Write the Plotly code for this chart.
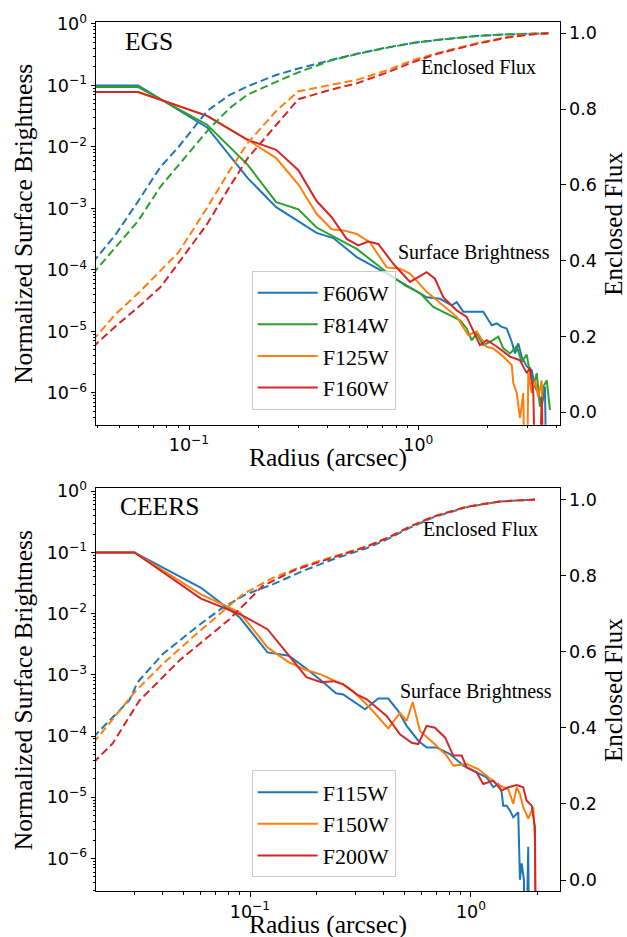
import plotly.graph_objects as go

# ---------------- EGS : surface brightness (solid) ----------------
egs_f606w_r = [0.03, 0.06, 0.12, 0.18, 0.24, 0.30, 0.36, 0.426, 0.539, 0.728, 0.92, 1.088, 1.243, 1.398, 1.471, 1.571, 1.92, 2.09, 2.2, 2.3, 2.43, 2.555, 2.641, 2.73, 2.824, 2.97, 3.123, 3.228, 3.337, 3.453, 3.569, 3.667]
egs_f606w_sb = [0.1, 0.1, 0.0208, 0.00314, 0.00105, 6.25e-4, 4.0e-4, 3.3e-4, 1.62e-4, 8.7e-5, 5.3e-5, 3.6e-5, 3.4e-5, 2.67e-5, 3.0e-5, 2.1e-5, 2.1e-5, 1.26e-5, 1.35e-5, 1.2e-5, 1.12e-5, 6.8e-6, 4.4e-6, 6.4e-6, 3.9e-6, 2.7e-6, 2.35e-6, 1.26e-6, 1.0e-6, 6.0e-7, 1.26e-6, 1e-9]

egs_f814w_r = [0.03, 0.06, 0.12, 0.18, 0.24, 0.30, 0.36, 0.539, 0.728, 0.875, 1.017, 1.163, 1.33, 1.52, 1.626, 1.71, 1.798, 1.92, 2.054, 2.233, 2.348, 2.512, 2.686, 2.824, 2.97, 3.07, 3.174, 3.284, 3.394, 3.509, 3.631, 3.752]
egs_f814w_sb = [0.094, 0.094, 0.023, 0.00517, 0.00127, 9.7e-4, 4.9e-4, 2.2e-4, 9.2e-5, 5.6e-5, 4.2e-5, 2.5e-5, 1.95e-5, 1.52e-5, 1.12e-5, 7.2e-6, 9.3e-6, 6.0e-6, 6.8e-6, 8.2e-6, 5.3e-6, 4.4e-6, 5.7e-6, 3.2e-6, 4.2e-6, 2.1e-6, 1.26e-6, 2.1e-6, 6.0e-7, 1.26e-6, 1.6e-6, 5.3e-7]

egs_f125w_r = [0.03, 0.06, 0.12, 0.18, 0.24, 0.30, 0.36, 0.419, 0.471, 0.539, 0.616, 0.728, 0.832, 0.92, 1.088, 1.285, 1.471, 1.652, 1.798, 1.988, 2.124, 2.348, 2.555, 2.597, 2.686, 2.777, 2.87, 2.95, 3.018, 3.123, 3.228, 3.337, 3.453, 3.55]
egs_f125w_sb = [0.078, 0.078, 0.032, 0.0131, 0.0066, 0.00245, 8.2e-4, 4.6e-4, 4.4e-4, 3.85e-4, 2.8e-4, 1.1e-4, 1.05e-4, 8.7e-5, 4.4e-5, 2.67e-5, 1.73e-5, 8.7e-6, 1.0e-5, 5.6e-6, 5.3e-6, 3.9e-6, 2.85e-6, 1.44e-6, 1.0e-6, 3.9e-7, 1.0e-6, 1e-9, 2.1e-6, 1.0e-6, 1.6e-6, 8.6e-7, 1.6e-6, 1e-9]

egs_f160w_r = [0.03, 0.06, 0.12, 0.18, 0.24, 0.30, 0.36, 0.419, 0.487, 0.547, 0.605, 0.669, 0.778, 0.92, 1.088, 1.182, 1.285, 1.471, 1.626, 1.798, 1.858, 1.988, 2.197, 2.512, 2.777, 2.97, 3.07, 3.174, 3.3, 3.453, 3.55]
egs_f160w_sb = [0.078, 0.078, 0.032, 0.0131, 0.0090, 0.0042, 0.00132, 7.2e-4, 3.2e-4, 2.5e-4, 2.9e-4, 2.65e-4, 1.26e-4, 6.4e-5, 9.2e-5, 7.2e-5, 3.6e-5, 2.2e-5, 1.73e-5, 7.7e-6, 6.0e-6, 7.2e-6, 5.7e-6, 3.9e-6, 3.4e-6, 2.1e-6, 2.6e-6, 1.0e-6, 1e-9, 8.6e-7, 1e-9]

# ---------------- EGS : enclosed flux (dashed) ----------------
egs_ef_r = [0.038, 0.048, 0.06, 0.075, 0.09, 0.12, 0.15, 0.18, 0.24, 0.3, 0.42, 0.54, 0.72, 0.96, 1.2, 1.5, 1.8, 2.4, 3.0, 3.69]
egs_f606w_ef = [0.395, 0.47, 0.557, 0.647, 0.70, 0.795, 0.837, 0.86, 0.89, 0.907, 0.93, 0.946, 0.962, 0.975, 0.982, 0.989, 0.993, 0.997, 0.999, 1.0]
egs_f814w_ef = [0.365, 0.437, 0.505, 0.595, 0.652, 0.742, 0.802, 0.838, 0.872, 0.897, 0.929, 0.945, 0.961, 0.975, 0.982, 0.989, 0.993, 0.997, 0.999, 1.0]
egs_f125w_ef = [0.19, 0.26, 0.314, 0.372, 0.422, 0.54, 0.637, 0.71, 0.795, 0.847, 0.865, 0.877, 0.901, 0.93, 0.947, 0.962, 0.974, 0.989, 0.997, 1.0]
egs_f160w_ef = [0.172, 0.228, 0.277, 0.33, 0.394, 0.497, 0.594, 0.67, 0.758, 0.826, 0.852, 0.868, 0.895, 0.925, 0.945, 0.96, 0.972, 0.988, 0.996, 1.0]

# ---------------- CEERS : surface brightness (solid) ----------------
ceers_f115w_r = [0.015, 0.03, 0.06, 0.09, 0.12, 0.15, 0.18, 0.21, 0.245, 0.2644, 0.3315, 0.3806, 0.4223, 0.4688, 0.5117, 0.5773, 0.6302, 0.6998, 0.8035, 0.923, 1.061, 1.178, 1.262, 1.329, 1.377, 1.40, 1.45, 1.501, 1.554, 1.637, 1.666, 1.696, 1.737, 1.755, 1.816, 1.849]
ceers_f115w_sb = [0.1, 0.1, 0.0265, 0.00865, 0.00233, 0.00206, 0.00126, 8.1e-4, 5.0e-4, 4.8e-4, 2.74e-4, 4.1e-4, 4.1e-4, 2.57e-4, 1.47e-4, 8.4e-5, 6.5e-5, 6.5e-5, 5.1e-5, 3.3e-5, 2.55e-5, 2.12e-5, 1.46e-5, 1.65e-5, 1.21e-5, 7.3e-6, 7.3e-6, 6.1e-6, 4.7e-6, 5.7e-6, 4.5e-7, 8.3e-7, 4.5e-7, 1e-9, 1.55e-6, 1e-9]

ceers_f150w_r = [0.015, 0.03, 0.06, 0.09, 0.12, 0.15, 0.18, 0.21, 0.24, 0.2644, 0.2935, 0.3487, 0.4223, 0.4774, 0.5117, 0.545, 0.588, 0.675, 0.776, 0.832, 0.956, 1.079, 1.178, 1.307, 1.40, 1.475, 1.554, 1.61, 1.666, 1.724, 1.816, 1.914, 1.948, 1.965]
ceers_f150w_sb = [0.1, 0.1, 0.0207, 0.0104, 0.00281, 0.0016, 0.0012, 0.00101, 8.1e-4, 7.0e-4, 5.4e-4, 2.9e-4, 1.34e-4, 2.4e-4, 1.77e-4, 3.6e-4, 1.21e-4, 7.8e-5, 4.8e-5, 3.3e-5, 3.5e-5, 2.9e-5, 2.25e-5, 1.65e-5, 1.46e-5, 1.37e-5, 7.8e-6, 1.46e-5, 1.14e-5, 6.9e-6, 4.5e-6, 6.9e-6, 2.0e-6, 1e-9]

ceers_f200w_r = [0.015, 0.03, 0.06, 0.09, 0.12, 0.15, 0.18, 0.21, 0.238, 0.2644, 0.304, 0.3376, 0.4154, 0.4774, 0.539, 0.5773, 0.630, 0.687, 0.763, 0.832, 0.908, 0.956, 1.061, 1.137, 1.262, 1.377, 1.475, 1.61, 1.724, 1.785, 1.883, 1.948, 1.98]
ceers_f200w_sb = [0.1, 0.1, 0.0176, 0.0098, 0.00558, 0.00206, 9.2e-4, 7.6e-4, 7.9e-4, 7.0e-4, 4.8e-4, 4.0e-4, 2.13e-4, 1.07e-4, 7.8e-5, 7.4e-5, 1.47e-4, 1.37e-4, 9.5e-5, 4.8e-5, 4.8e-5, 3.08e-5, 2.55e-5, 1.65e-5, 1.87e-5, 1.29e-5, 1.46e-5, 1.58e-5, 1.46e-5, 8.9e-6, 7.3e-6, 3.3e-6, 1e-9]

# ---------------- CEERS : enclosed flux (dashed) ----------------
ceers_f115w_ef_r = [0.0195, 0.0284, 0.031, 0.0403, 0.057, 0.0752, 0.0959, 0.1267, 0.1732, 0.2378, 0.3371, 0.4298, 0.5298, 0.675, 0.956, 1.353, 1.948]
ceers_f115w_ef = [0.375, 0.472, 0.52, 0.594, 0.664, 0.716, 0.751, 0.777, 0.812, 0.843, 0.872, 0.899, 0.926, 0.953, 0.98, 0.995, 1.0]
ceers_f150w_ef_r = [0.0195, 0.0305, 0.0403, 0.057, 0.0927, 0.1267, 0.1732, 0.2378, 0.3371, 0.4298, 0.5298, 0.675, 0.956, 1.353, 1.948]
ceers_f150w_ef = [0.36, 0.498, 0.568, 0.646, 0.751, 0.794, 0.825, 0.85, 0.877, 0.902, 0.929, 0.955, 0.981, 0.995, 1.0]
ceers_f200w_ef_r = [0.0195, 0.0239, 0.0316, 0.0479, 0.0806, 0.1141, 0.1615, 0.2378, 0.3371, 0.4298, 0.5298, 0.675, 0.956, 1.353, 1.948]
ceers_f200w_ef = [0.308, 0.359, 0.472, 0.577, 0.685, 0.773, 0.816, 0.848, 0.876, 0.902, 0.929, 0.955, 0.981, 0.995, 1.0]

# tick labels
sb_tick_vals = [1e-6, 1e-5, 1e-4, 1e-3, 1e-2, 1e-1, 1e0]
sb_tick_text = ["10<sup>\u22126</sup>", "10<sup>\u22125</sup>", "10<sup>\u22124</sup>", "10<sup>\u22123</sup>",
                "10<sup>\u22122</sup>", "10<sup>\u22121</sup>", "10<sup>0</sup>"]
r_tick_vals = [0.1, 1.0]
r_tick_text = ["10<sup>\u22121</sup>", "10<sup>0</sup>"]
ef_tick_vals = [0.0, 0.2, 0.4, 0.6, 0.8, 1.0]
ef_tick_text = ["0.0", "0.2", "0.4", "0.6", "0.8", "1.0"]

C_BLUE, C_ORANGE, C_GREEN, C_RED = "#1f77b4", "#ff7f0e", "#2ca02c", "#d62728"
SERIF = "Liberation Serif"
SANS = "DejaVu Sans"

fig = go.Figure()

egs = [
    ("F606W", C_BLUE, egs_f606w_r, egs_f606w_sb, egs_f606w_ef),
    ("F814W", C_GREEN, egs_f814w_r, egs_f814w_sb, egs_f814w_ef),
    ("F125W", C_ORANGE, egs_f125w_r, egs_f125w_sb, egs_f125w_ef),
    ("F160W", C_RED, egs_f160w_r, egs_f160w_sb, egs_f160w_ef),
]
for name, col, r, sb, ef in egs:
    fig.add_trace(go.Scatter(x=egs_ef_r, y=ef, mode="lines", xaxis="x", yaxis="y2",
                             line=dict(color=col, width=2, dash="8px,4px"),
                             showlegend=False, legendgroup="e" + name, hoverinfo="skip"))
for name, col, r, sb, ef in egs:
    fig.add_trace(go.Scatter(x=r, y=sb, mode="lines", name=name, xaxis="x", yaxis="y",
                             line=dict(color=col, width=2), legendgroup="e" + name, legend="legend"))

ceers = [
    ("F115W", C_BLUE, ceers_f115w_r, ceers_f115w_sb, ceers_f115w_ef_r, ceers_f115w_ef),
    ("F150W", C_ORANGE, ceers_f150w_r, ceers_f150w_sb, ceers_f150w_ef_r, ceers_f150w_ef),
    ("F200W", C_RED, ceers_f200w_r, ceers_f200w_sb, ceers_f200w_ef_r, ceers_f200w_ef),
]
for name, col, r, sb, efr, ef in ceers:
    fig.add_trace(go.Scatter(x=efr, y=ef, mode="lines", xaxis="x2", yaxis="y4",
                             line=dict(color=col, width=2, dash="8px,4px"),
                             showlegend=False, legendgroup="c" + name, legend="legend2", hoverinfo="skip"))
for name, col, r, sb, efr, ef in ceers:
    fig.add_trace(go.Scatter(x=r, y=sb, mode="lines", name=name, xaxis="x2", yaxis="y3",
                             line=dict(color=col, width=2), legendgroup="c" + name, legend="legend2"))

minor_log_x = [k * 10 ** e for e in (-2, -1, 0) for k in range(2, 10)]
minor_log_y = [k * 10 ** e for e in range(-7, 0) for k in range(2, 10)]

tickfont = dict(family=SANS, size=17.5, color="black")
common = dict(showline=True, linecolor="black", linewidth=1, ticks="outside", ticklen=4.5,
              tickwidth=1, tickcolor="black", showgrid=False, zeroline=False, tickfont=tickfont)

xaxis_common = dict(type="log", tickmode="array", tickvals=r_tick_vals, ticktext=r_tick_text,
                    mirror=True,
                    minor=dict(tickmode="array", tickvals=minor_log_x, ticks="outside", ticklen=2.5,
                               tickcolor="black", tickwidth=1, showgrid=False), **common)
ylog_common = dict(type="log", tickmode="array", tickvals=sb_tick_vals, ticktext=sb_tick_text,
                   minor=dict(tickmode="array", tickvals=minor_log_y, ticks="outside", ticklen=2.5,
                              tickcolor="black", tickwidth=1, showgrid=False), **common)
yef_common = dict(tickmode="array", tickvals=ef_tick_vals, ticktext=ef_tick_text, side="right", **common)

P_TOP = 0.5366
P_BOT = 0.4634

legend_common = dict(xanchor="left", yanchor="top",
                     bgcolor="rgba(255,255,255,0.8)", bordercolor="#cccccc", borderwidth=1,
                     font=dict(family=SERIF, size=22, color="black"),
                     traceorder="grouped", tracegroupgap=0, itemwidth=60)

fig.update_layout(
    width=627, height=937,
    margin=dict(l=96, r=67, t=17, b=46),
    paper_bgcolor="white", plot_bgcolor="white",
    xaxis=dict(domain=[0, 1], anchor="y", range=[-1.4056, 0.618], **xaxis_common),
    yaxis=dict(domain=[P_TOP, 1], anchor="x", range=[-6.516, 0.032], **ylog_common),
    yaxis2=dict(overlaying="y", anchor="x", range=[-0.0325, 1.0297], **yef_common),
    xaxis2=dict(domain=[0, 1], anchor="y3", range=[-1.697, 0.403], **xaxis_common),
    yaxis3=dict(domain=[0, P_BOT], anchor="x2", range=[-6.531, 0.0487], **ylog_common),
    yaxis4=dict(overlaying="y3", anchor="x2", range=[-0.0287, 1.0295], **yef_common),
    legend=dict(x=0.3356, y=0.7135, **legend_common),
    legend2=dict(x=0.3356, y=0.1388, **legend_common),
    showlegend=True,
)

def ann(text, x, y, size, xanchor="center", angle=0):
    fig.add_annotation(text=text, x=x, y=y, xref="paper", yref="paper", showarrow=False,
                       xanchor=xanchor, yanchor="middle", textangle=angle,
                       font=dict(family=SERIF, size=size, color="black"))

ann("EGS", 0.0582, 0.9775, 25.5, xanchor="left")
ann("CEERS", 0.0474, 0.4420, 25.5, xanchor="left")
ann("Enclosed Flux", 0.824, 0.9486, 20)
ann("Surface Brightness", 0.8157, 0.7350, 20)
ann("Enclosed Flux", 0.8297, 0.4165, 20)
ann("Surface Brightness", 0.819, 0.2297, 20)
ann("Radius (arcsec)", 0.5, 0.4985, 25.5)
ann("Radius (arcsec)", 0.5, -0.0383, 25.5)
ann("Normalized Surface Brightness", -0.1563, 0.7683, 25.5, angle=-90)
ann("Normalized Surface Brightness", -0.1563, 0.2317, 25.5, angle=-90)
ann("Enclosed Flux", 1.1150, 0.7683, 25, angle=-90)
ann("Enclosed Flux", 1.1150, 0.2317, 25, angle=-90)

fig.write_html("out.html")
